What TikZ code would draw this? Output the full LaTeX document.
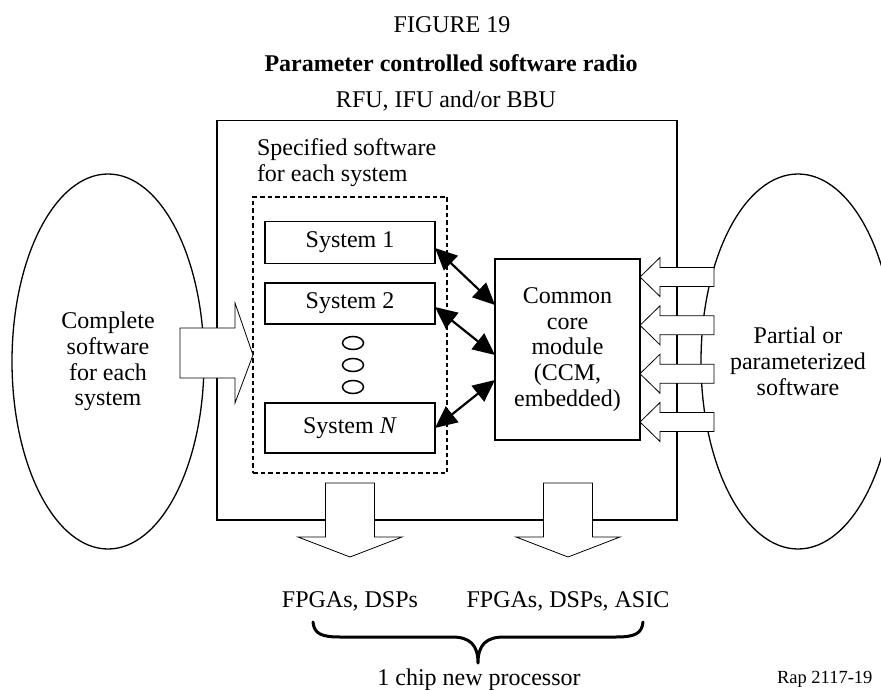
\documentclass[tikz,border=0pt]{standalone}
\usepackage{fontspec}
\setmainfont{Liberation Serif}
\usetikzlibrary{arrows.meta,calc,shapes.geometric}
\begin{document}
\begin{tikzpicture}[x=1pt,y=-1pt,
  font=\fontsize{24}{25.8}\selectfont,
  txt/.style={inner sep=0pt, outer sep=0pt, align=center},
  blob/.style={draw, ellipse, line width=1.3pt, inner sep=0pt, outer sep=0pt, align=center},
  box/.style={draw, line width=1.6pt, inner sep=0pt, outer sep=0pt},
  sysbox/.style={draw, line width=1.3pt, inner sep=0pt, outer sep=0pt, minimum width=170pt},
  dashbox/.style={draw, line width=2pt, dash pattern=on 4.5pt off 3pt, inner sep=0pt, outer sep=0pt},
  dbl/.style={{Triangle[length=22pt,width=20pt]}-{Triangle[length=22pt,width=20pt]}, line width=2.2pt},
  bigarrow/.style={draw, fill=white, line width=0.8pt, line join=miter},
  dotring/.style={line width=1.5pt},
  bracepath/.style={line width=3pt, line cap=round, line join=round}
]
\useasboundingbox (0,0) rectangle (881,690);

% titles
\node[txt, anchor=base] (fig) at (452,33) {FIGURE 19};
\node[txt, anchor=base, font=\fontsize{24}{25.8}\selectfont\bfseries] (title) at (451,72) {Parameter controlled software radio};
\node[txt, anchor=base] (rfulbl) at (446,108) {RFU, IFU and/or BBU};

% side ellipses
\node[blob, minimum width=192pt, minimum height=375pt] (complete) at (108,361.5) {Complete\\software\\for each\\system};
\node[blob, minimum width=194pt, minimum height=375pt] (partial) at (798,361.5) {Partial or\\parameterized\\software};

% outer box
\node[box, minimum width=460pt, minimum height=399.5pt] (rfu) at (447,320.25) {};

% specified software label
\node[txt, align=left, anchor=north west] (speclbl) at (257,138.5) {Specified software\\for each system};

% dashed box
\node[dashbox, minimum width=194pt, minimum height=276pt] (spec) at (350,335) {};

% system boxes
\node[sysbox, minimum height=41.5pt] (s1) at (350,242.5) {System 1};
\node[sysbox, minimum height=41pt] (s2) at (350,303.5) {System 2};
\node[sysbox, minimum height=50pt] (sN) at (350,428) {System \textit{N}};

% dots
\draw[dotring] (353,343) ellipse [x radius=10.5pt, y radius=6.5pt];
\draw[dotring] (353,365) ellipse [x radius=10.5pt, y radius=6.5pt];
\draw[dotring] (353,387) ellipse [x radius=10.5pt, y radius=6.5pt];

% common core module
\node[box, minimum width=145pt, minimum height=181pt, align=center] (ccm) at (567.5,349.5) {Common\\core\\module\\(CCM,\\embedded)};

% double arrows
\draw[dbl] ([yshift=-5.5pt]s1.east) -- ([yshift=44.5pt]ccm.west);
\draw[dbl] ([yshift=-3.5pt]s2.east) -- ([yshift=-5.5pt]ccm.west);
\draw[dbl] ([yshift=-30.5pt]ccm.west) -- (sN.east);

% big arrow from left ellipse into the dashed box
\coordinate (ltip) at ([yshift=-20pt]spec.west);
\draw[bigarrow] (ltip) -- ++(-18,-52) -- ++(0,25) -- ++(-55,0) -- ++(0,50) -- ++(55,0) -- ++(0,25) -- cycle;

% arrows from right ellipse into CCM
\foreach \dy/\nm in {72.5/r1, 24.2/r2, -24.2/r3, -72.5/r4}{
  \coordinate (\nm) at ([yshift=\dy pt]ccm.east);
  \draw[bigarrow] (\nm) -- ++(20,-19.5) -- ++(0,10) -- ++(54,0) -- ++(0,19) -- ++(-54,0) -- ++(0,10) -- cycle;
}

% bottom arrows
\coordinate (b1) at (350,557);
\coordinate (b2) at (568,557);
\foreach \nm in {b1,b2}{
  \draw[bigarrow] (\nm) -- ++(-52,-20) -- ++(27.5,0) -- ++(0,-54) -- ++(49,0) -- ++(0,54) -- ++(27.5,0) -- cycle;
}

% bottom labels
\node[txt, anchor=base] (fd) at (350,607) {FPGAs, DSPs};
\node[txt, anchor=base] (fda) at (568,607) {FPGAs, DSPs, ASIC};

% brace
\draw[bracepath] (313,622) .. controls (314,634) and (322,637) .. (340,637)
  -- (452,637) .. controls (470,637) and (478,645) .. (478,663)
  .. controls (478,645) and (486,637) .. (504,637)
  -- (616,637) .. controls (634,637) and (642,634) .. (643,622);

\node[txt, anchor=base] (chip) at (479,685) {1 chip new processor};
\node[txt, anchor=north west, font=\fontsize{18.5}{20}\selectfont] (rap) at (777,671) {Rap 2117-19};
\end{tikzpicture}
\end{document}
